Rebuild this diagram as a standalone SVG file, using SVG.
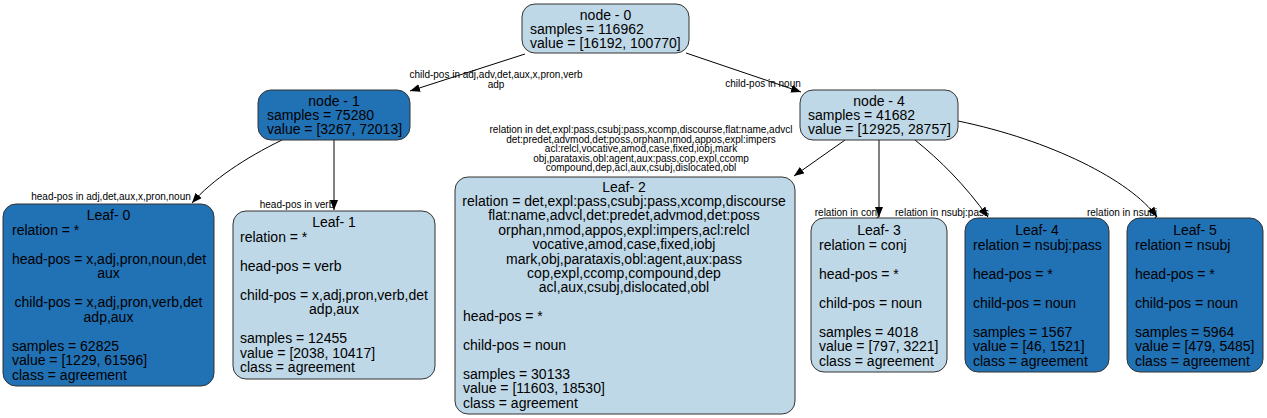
<svg xmlns="http://www.w3.org/2000/svg" width="1267" height="418" viewBox="0 0 1267 418">
<style>
text{font-family:"Liberation Sans",Arial,Helvetica,sans-serif;fill:#000}
.n{font-size:14px}
.e{font-size:10px}
.c{text-anchor:middle}
.light{fill:#bfd8e7;stroke:#333;stroke-width:1}
.dark{fill:#2171b5;stroke:#333;stroke-width:1}
.edge{fill:none;stroke:#000;stroke-width:1;marker-end:url(#arr)}
</style>
<defs>
<marker id="arr" markerUnits="userSpaceOnUse" markerWidth="10" markerHeight="8" refX="10" refY="4" orient="auto">
<path d="M0,0 L10,4 L0,8 z" fill="#000"/>
</marker>
</defs>
<rect width="1267" height="418" fill="#fff"/>
<g id="connectors">
<path class="edge" d="M525,54 L410,91"/>
<path class="edge" d="M686,53 L801,92"/>
<path class="edge" d="M282,140 C245,158 212,180 192,203"/>
<path class="edge" d="M334,140 L334,210"/>
<path class="edge" d="M845,140 L794,176"/>
<path class="edge" d="M879,140 L879,217"/>
<path class="edge" d="M915,140 C940,160 965,185 988,217"/>
<path class="edge" d="M958,121 C1050,140 1130,180 1157,217"/>
<text class="e c" x="496" y="78">child-pos in adj,adv,det,aux,x,pron,verb</text>
<text class="e c" x="496" y="88">adp</text>
<text class="e c" x="763" y="87">child-pos in noun</text>
<text class="e c" x="111" y="200">head-pos in adj,det,aux,x,pron,noun</text>
<text class="e c" x="297" y="208">head-pos in verb</text>
<text class="e c" x="641" y="133">relation in det,expl:pass,csubj:pass,xcomp,discourse,flat:name,advcl</text>
<text class="e c" x="641" y="142.6">det:predet,advmod,det:poss,orphan,nmod,appos,expl:impers</text>
<text class="e c" x="641" y="152.2">acl:relcl,vocative,amod,case,fixed,iobj,mark</text>
<text class="e c" x="641" y="161.8">obj,parataxis,obl:agent,aux:pass,cop,expl,ccomp</text>
<text class="e c" x="641" y="171.4">compound,dep,acl,aux,csubj,dislocated,obl</text>
<text class="e c" x="847" y="216">relation in conj</text>
<text class="e c" x="942" y="216">relation in nsubj:pass</text>
<text class="e c" x="1122" y="216">relation in nsubj</text>
</g>
<g id="node0">
<rect class="light" x="522" y="4" width="167" height="49" rx="13"/>
<text class="n c" x="605.5" y="19.7">node - 0</text>
<text class="n" x="530" y="34">samples = 116962</text>
<text class="n" x="530" y="48.3">value = [16192, 100770]</text>
</g>
<g id="node1">
<rect class="dark" x="258" y="90" width="152" height="50" rx="13"/>
<text class="n c" x="334" y="105.7">node - 1</text>
<text class="n" x="267" y="120">samples = 75280</text>
<text class="n" x="267" y="134.3">value = [3267, 72013]</text>
</g>
<g id="node4">
<rect class="light" x="800" y="90" width="158" height="50" rx="13"/>
<text class="n c" x="879" y="105.7">node - 4</text>
<text class="n" x="808" y="120">samples = 41682</text>
<text class="n" x="808" y="134.3">value = [12925, 28757]</text>
</g>
<g id="leaf0">
<rect class="dark" x="3" y="204" width="211" height="182" rx="13"/>
<text class="n c" x="108.5" y="220">Leaf- 0</text>
<text class="n" x="12" y="234.5">relation = *</text>
<text class="n c" x="109" y="263.5">head-pos = x,adj,pron,noun,det</text>
<text class="n c" x="108.5" y="278">aux</text>
<text class="n c" x="108.5" y="307">child-pos = x,adj,pron,verb,det</text>
<text class="n c" x="108.5" y="321.5">adp,aux</text>
<text class="n" x="12" y="350.5">samples = 62825</text>
<text class="n" x="12" y="365">value = [1229, 61596]</text>
<text class="n" x="12" y="379.5">class = agreement</text>
</g>
<g id="leaf1">
<rect class="light" x="233" y="211" width="202" height="168" rx="13"/>
<text class="n c" x="334" y="227">Leaf- 1</text>
<text class="n" x="240" y="241.5">relation = *</text>
<text class="n" x="240" y="270.5">head-pos = verb</text>
<text class="n c" x="334" y="299.5">child-pos = x,adj,pron,verb,det</text>
<text class="n c" x="334" y="314">adp,aux</text>
<text class="n" x="240" y="343">samples = 12455</text>
<text class="n" x="240" y="357.5">value = [2038, 10417]</text>
<text class="n" x="240" y="372">class = agreement</text>
</g>
<g id="leaf2">
<rect class="light" x="455" y="177" width="340" height="237" rx="13"/>
<text class="n c" x="624" y="191.5">Leaf- 2</text>
<text class="n c" x="624" y="206">relation = det,expl:pass,csubj:pass,xcomp,discourse</text>
<text class="n c" x="624" y="220.4">flat:name,advcl,det:predet,advmod,det:poss</text>
<text class="n c" x="624" y="234.8">orphan,nmod,appos,expl:impers,acl:relcl</text>
<text class="n c" x="624" y="249.2">vocative,amod,case,fixed,iobj</text>
<text class="n c" x="624" y="263.6">mark,obj,parataxis,obl:agent,aux:pass</text>
<text class="n c" x="624" y="278">cop,expl,ccomp,compound,dep</text>
<text class="n c" x="624" y="292.4">acl,aux,csubj,dislocated,obl</text>
<text class="n" x="463" y="321.2">head-pos = *</text>
<text class="n" x="463" y="350">child-pos = noun</text>
<text class="n" x="463" y="378.8">samples = 30133</text>
<text class="n" x="463" y="393.2">value = [11603, 18530]</text>
<text class="n" x="463" y="407.6">class = agreement</text>
</g>
<g id="leaf3">
<rect class="light" x="811" y="218" width="136" height="154" rx="13"/>
<text class="n c" x="879" y="235">Leaf- 3</text>
<text class="n" x="819" y="249.5">relation = conj</text>
<text class="n" x="819" y="278.5">head-pos = *</text>
<text class="n" x="819" y="307.5">child-pos = noun</text>
<text class="n" x="819" y="336.5">samples = 4018</text>
<text class="n" x="819" y="351">value = [797, 3221]</text>
<text class="n" x="819" y="365.5">class = agreement</text>
</g>
<g id="leaf4">
<rect class="dark" x="965" y="218" width="144" height="154" rx="13"/>
<text class="n c" x="1037" y="235">Leaf- 4</text>
<text class="n" x="973" y="249.5">relation = nsubj:pass</text>
<text class="n" x="973" y="278.5">head-pos = *</text>
<text class="n" x="973" y="307.5">child-pos = noun</text>
<text class="n" x="973" y="336.5">samples = 1567</text>
<text class="n" x="973" y="351">value = [46, 1521]</text>
<text class="n" x="973" y="365.5">class = agreement</text>
</g>
<g id="leaf5">
<rect class="dark" x="1127" y="218" width="136" height="154" rx="13"/>
<text class="n c" x="1195" y="235">Leaf- 5</text>
<text class="n" x="1135" y="249.5">relation = nsubj</text>
<text class="n" x="1135" y="278.5">head-pos = *</text>
<text class="n" x="1135" y="307.5">child-pos = noun</text>
<text class="n" x="1135" y="336.5">samples = 5964</text>
<text class="n" x="1135" y="351">value = [479, 5485]</text>
<text class="n" x="1135" y="365.5">class = agreement</text>
</g>
</svg>
